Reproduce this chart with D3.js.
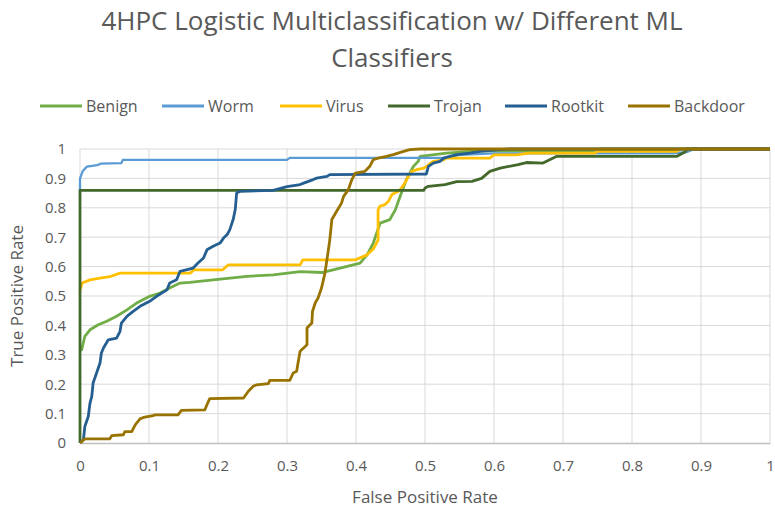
<!DOCTYPE html>
<html>
<head>
<meta charset="utf-8">
<script src="https://cdnjs.cloudflare.com/ajax/libs/d3/7.8.5/d3.min.js"></script>
<style>
  body { margin: 0; background: #fff; }
  text { font-family: "Open Sans", sans-serif; fill: #595959; }
</style>
</head>
<body>
<div id="chart"></div>
<script>
// series names, order = drawing order
var seriesNames = ["Benign", "Worm", "Virus", "Trojan", "Rootkit", "Backdoor"];
var seriesColors = ["#70AD47", "#5B9BD5", "#FFC000", "#43682B", "#255E91", "#997300"];

var xTicks = [0, 0.1, 0.2, 0.3, 0.4, 0.5, 0.6, 0.7, 0.8, 0.9, 1];
var yTicks = [0, 0.1, 0.2, 0.3, 0.4, 0.5, 0.6, 0.7, 0.8, 0.9, 1];

// [false positive rate, true positive rate]
var benign = [[0,0.317],[0.0025,0.317],[0.007,0.363],[0.0145,0.385],[0.0265,0.402],[0.0387,0.414],
  [0.053,0.431],[0.068,0.453],[0.082,0.476],[0.101,0.499],[0.116,0.51],[0.13,0.527],[0.145,0.544],
  [0.159,0.546],[0.193,0.555],[0.242,0.567],[0.28,0.572],[0.319,0.583],[0.352,0.58],[0.377,0.595],
  [0.406,0.612],[0.416,0.64],[0.425,0.68],[0.435,0.748],[0.449,0.76],[0.457,0.793],[0.464,0.839],
  [0.473,0.896],[0.483,0.94],[0.49,0.958],[0.493,0.975],[0.531,0.986],[0.584,0.994],[0.743,0.994],
  [0.754,1],[1,1]];

var worm = [[0,0.85],[0,0.9],[0.004,0.925],[0.01,0.94],[0.025,0.945],[0.03,0.95],[0.06,0.952],
  [0.062,0.963],[0.3,0.963],[0.304,0.97],[0.53,0.97],[0.55,0.98],[0.6,0.985],[0.86,0.985],
  [0.88,0.99],[0.89,1],[1,1]];

var virus = [[0,0.52],[0.003,0.544],[0.0145,0.555],[0.029,0.561],[0.045,0.567],[0.058,0.578],
  [0.16,0.578],[0.165,0.589],[0.207,0.589],[0.215,0.606],[0.319,0.606],[0.323,0.623],[0.399,0.623],
  [0.416,0.64],[0.425,0.66],[0.432,0.69],[0.432,0.793],[0.435,0.806],[0.442,0.811],[0.447,0.822],
  [0.452,0.845],[0.457,0.851],[0.462,0.857],[0.466,0.868],[0.471,0.885],[0.476,0.907],[0.481,0.924],
  [0.488,0.93],[0.498,0.935],[0.503,0.941],[0.508,0.952],[0.512,0.958],[0.527,0.963],[0.53,0.969],
  [0.594,0.969],[0.6,0.98],[0.633,0.98],[0.65,0.986],[0.746,0.986],[0.75,0.992],[0.865,0.992],
  [0.87,1],[1,1]];

var trojan = [[0,0],[0,0.859],[0.498,0.859],[0.5,0.867],[0.505,0.873],[0.529,0.879],[0.546,0.889],
  [0.568,0.89],[0.582,0.9],[0.594,0.924],[0.609,0.935],[0.635,0.947],[0.647,0.954],[0.671,0.952],
  [0.691,0.975],[0.865,0.975],[0.877,0.99],[0.88,1],[1,1]];

var rootkit = [[0,0],[0.005,0.011],[0.007,0.056],[0.012,0.09],[0.0145,0.136],[0.017,0.158],
  [0.019,0.204],[0.024,0.238],[0.029,0.272],[0.031,0.306],[0.034,0.323],[0.041,0.351],[0.053,0.357],
  [0.058,0.38],[0.06,0.408],[0.068,0.431],[0.077,0.448],[0.087,0.465],[0.101,0.482],[0.111,0.499],
  [0.126,0.521],[0.13,0.544],[0.14,0.555],[0.145,0.584],[0.164,0.595],[0.171,0.612],[0.179,0.629],
  [0.184,0.657],[0.193,0.669],[0.203,0.68],[0.208,0.697],[0.213,0.708],[0.217,0.725],[0.222,0.76],
  [0.225,0.794],[0.227,0.85],[0.232,0.856],[0.28,0.859],[0.3,0.872],[0.319,0.879],[0.324,0.884],
  [0.338,0.896],[0.343,0.901],[0.358,0.907],[0.362,0.913],[0.502,0.915],[0.505,0.941],[0.512,0.952],
  [0.522,0.958],[0.527,0.969],[0.536,0.975],[0.546,0.981],[0.565,0.986],[0.58,0.992],[0.604,0.997],
  [0.623,1],[1,1]];

var backdoor = [[0,0],[0.007,0.014],[0.043,0.014],[0.046,0.025],[0.063,0.028],[0.065,0.039],
  [0.075,0.039],[0.08,0.062],[0.087,0.082],[0.092,0.087],[0.106,0.093],[0.109,0.096],[0.142,0.096],
  [0.147,0.111],[0.181,0.113],[0.184,0.13],[0.188,0.151],[0.237,0.153],[0.244,0.176],[0.251,0.193],
  [0.256,0.198],[0.273,0.202],[0.275,0.213],[0.304,0.213],[0.309,0.238],[0.314,0.244],[0.316,0.272],
  [0.319,0.312],[0.324,0.323],[0.329,0.334],[0.329,0.391],[0.336,0.408],[0.337,0.448],[0.341,0.477],
  [0.345,0.493],[0.35,0.527],[0.355,0.578],[0.36,0.657],[0.362,0.691],[0.365,0.76],[0.372,0.788],
  [0.379,0.816],[0.382,0.839],[0.389,0.862],[0.394,0.896],[0.399,0.918],[0.413,0.924],[0.42,0.941],
  [0.425,0.964],[0.432,0.969],[0.444,0.975],[0.454,0.981],[0.469,0.992],[0.478,0.998],[0.493,1],[1,1]];

var seriesData = [benign, worm, virus, trojan, rootkit, backdoor];

var W = 775, H = 514;
var margin = {top: 149, right: 5, bottom: 71, left: 80};
var width = W - margin.left - margin.right;
var height = H - margin.top - margin.bottom;

var svg = d3.select("#chart")
  .append("svg")
  .attr("width", W)
  .attr("height", H);

var g = svg.append("g")
  .attr("transform", "translate(" + margin.left + "," + margin.top + ")");

var xScale = d3.scaleLinear().domain([0, 1]).range([0, width]);
var yScale = d3.scaleLinear().domain([0, 1]).range([height, 0]);

// gridlines
g.append("g")
  .selectAll("line.vgrid")
  .data(xTicks)
  .enter()
  .append("line")
  .attr("x1", function(d) { return xScale(d); })
  .attr("x2", function(d) { return xScale(d); })
  .attr("y1", 0)
  .attr("y2", height)
  .attr("stroke", "#D9D9D9")
  .attr("stroke-width", 1);

g.append("g")
  .selectAll("line.hgrid")
  .data(yTicks.filter(function(d) { return d > 0; }))
  .enter()
  .append("line")
  .attr("x1", 0)
  .attr("x2", width)
  .attr("y1", function(d) { return yScale(d); })
  .attr("y2", function(d) { return yScale(d); })
  .attr("stroke", "#D9D9D9")
  .attr("stroke-width", 1);

// axes
var xAxis = g.append("g")
  .attr("transform", "translate(0," + height + ")")
  .call(d3.axisBottom(xScale).tickValues(xTicks).tickSize(0).tickPadding(17)
    .tickFormat(function(d) { return String(d); }));
xAxis.select(".domain").attr("stroke", "#BFBFBF").attr("stroke-width", 1.3);
xAxis.selectAll("text").style("font-size", "15px").style("fill", "#595959");

var yAxis = g.append("g")
  .call(d3.axisLeft(yScale).tickValues(yTicks).tickSize(0).tickPadding(14)
    .tickFormat(function(d) { return String(d); }));
yAxis.select(".domain").remove();
yAxis.selectAll("text").style("font-size", "15px").style("fill", "#595959");

// lines
var line = d3.line()
  .x(function(d) { return xScale(d[0]); })
  .y(function(d) { return yScale(d[1]); });

seriesData.forEach(function(s, i) {
  g.append("path")
    .datum(s)
    .attr("fill", "none")
    .attr("stroke", seriesColors[i])
    .attr("stroke-width", i == 1 ? 2.3 : 2.8)
    .attr("stroke-linejoin", "round")
    .attr("d", line);
});

// title
svg.append("text")
  .attr("x", 392)
  .attr("y", 30)
  .attr("text-anchor", "middle")
  .style("font-size", "26px")
  .text("4HPC Logistic Multiclassification w/ Different ML");
svg.append("text")
  .attr("x", 392)
  .attr("y", 67)
  .attr("text-anchor", "middle")
  .style("font-size", "26px")
  .text("Classifiers");

// legend
var legendX = [40, 162, 280, 388, 505, 628];
var legend = svg.append("g");
seriesNames.forEach(function(name, i) {
  legend.append("line")
    .attr("x1", legendX[i])
    .attr("x2", legendX[i] + 42)
    .attr("y1", 106)
    .attr("y2", 106)
    .attr("stroke", seriesColors[i])
    .attr("stroke-width", 3);
  legend.append("text")
    .attr("x", legendX[i] + 46)
    .attr("y", 112)
    .style("font-size", "16px")
    .text(name);
});

// axis titles
svg.append("text")
  .attr("x", margin.left + width / 2)
  .attr("y", 503)
  .attr("text-anchor", "middle")
  .style("font-size", "17px")
  .text("False Positive Rate");

svg.append("text")
  .attr("transform", "translate(23," + (margin.top + height / 2) + ") rotate(-90)")
  .attr("text-anchor", "middle")
  .style("font-size", "17px")
  .text("True Positive Rate");
</script>
</body>
</html>
